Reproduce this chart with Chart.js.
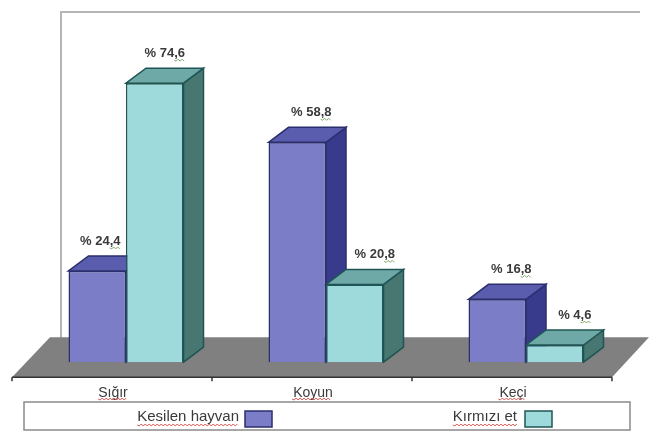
<!DOCTYPE html>
<html>
<head>
<meta charset="utf-8">
<style>
html, body { margin: 0; padding: 0; background: #fff; }
#wrap { width: 649px; height: 433px; }
#mycanvas { filter: blur(0.45px); }
</style>
<script src="https://cdn.jsdelivr.net/npm/chart.js@4"></script>
</head>
<body>
<div id="wrap"><canvas id="mycanvas" width="649" height="433"></canvas></div>
<script>
var categories = ["Sığır", "Koyun", "Keçi"];
var kesilenHayvan = [24.4, 58.8, 16.8];
var kirmiziEt = [74.6, 20.8, 4.6];

var fonts = '"Liberation Sans", Arial, sans-serif';
var depthX = 20, depthY = 15;

var skins = [
	{ front: '#7b7ec6', top: '#5a5cae', side: '#383a8c', edge: '#2b2f6e', shift: [3, 14, 14] },
	{ front: '#9edadb', top: '#6fa9a7', side: '#487670', edge: '#1f5554', shift: [10, 20, 20] }
];

function poly(ctx, pts, fill, stroke) {
	ctx.beginPath();
	ctx.moveTo(pts[0][0], pts[0][1]);
	for (var i = 1; i < pts.length; i++) ctx.lineTo(pts[i][0], pts[i][1]);
	ctx.closePath();
	if (fill) { ctx.fillStyle = fill; ctx.fill(); }
	if (stroke) { ctx.strokeStyle = stroke; ctx.lineWidth = 1.5; ctx.stroke(); }
}

function squiggle(ctx, x1, x2, y, color) {
	ctx.beginPath();
	for (var x = x1, up = true; x <= x2; x += 2, up = !up) {
		if (x === x1) ctx.moveTo(x, y); else ctx.lineTo(x, up ? y - 1 : y + 1);
	}
	ctx.strokeStyle = color;
	ctx.lineWidth = 1;
	ctx.stroke();
}

// floor, frame and 3d faces go under the bars
var backdrop = {
	id: 'backdrop',
	beforeDatasetsDraw: function(chart) {
		var ctx = chart.ctx, a = chart.chartArea;
		ctx.save();

		// back wall frame
		ctx.strokeStyle = '#b5b5b5';
		ctx.lineWidth = 2;
		ctx.beginPath();
		ctx.moveTo(a.left + 35, a.bottom - 20);
		ctx.lineTo(a.left + 35, 12);
		ctx.lineTo(640, 12);
		ctx.stroke();

		// floor
		var fl = a.left - 14, fr = a.right - 14, fb = a.bottom + 15, ft = a.bottom - 25;
		poly(ctx, [[fl, fb], [fr, fb], [fr + 37, ft], [fl + 38, ft]], '#808080');
		ctx.strokeStyle = '#333';
		ctx.lineWidth = 1.5;
		ctx.beginPath();
		ctx.moveTo(fl, fb);
		ctx.lineTo(fr, fb);
		ctx.stroke();
		var step = (fr - fl) / categories.length;
		for (var i = 0; i <= categories.length; i++) {
			ctx.beginPath();
			ctx.moveTo(fl + i * step, fb);
			ctx.lineTo(fl + i * step, fb + 4);
			ctx.stroke();
		}

		// top and side faces, left series first
		chart.data.datasets.forEach(function(ds, d) {
			var s = skins[d];
			chart.getDatasetMeta(d).data.forEach(function(bar) {
				var l = bar.x - bar.width / 2, r = bar.x + bar.width / 2;
				poly(ctx, [[r, bar.y], [r + depthX, bar.y - depthY], [r + depthX, bar.base - depthY], [r, bar.base]], s.side, s.edge);
				poly(ctx, [[l, bar.y], [l + depthX, bar.y - depthY], [r + depthX, bar.y - depthY], [r, bar.y]], s.top, s.edge);
			});
		});
		ctx.restore();
	},
	afterDraw: function(chart) {
		var ctx = chart.ctx;
		ctx.save();

		// value labels
		ctx.font = 'bold 13px ' + fonts;
		ctx.textAlign = 'center';
		ctx.textBaseline = 'middle';
		chart.data.datasets.forEach(function(ds, d) {
			chart.getDatasetMeta(d).data.forEach(function(bar, i) {
				var txt = '% ' + String(ds.data[i]).replace('.', ',');
				var x = bar.x + skins[d].shift[i], y = bar.y - 30;
				ctx.fillStyle = '#3a3a3a';
				ctx.fillText(txt, x, y);
				var w = ctx.measureText(',' + String(ds.data[i]).split('.')[1]).width;
				var right = x + ctx.measureText(txt).width / 2;
				squiggle(ctx, right - w, right, y + 7, '#7fa66a');
			});
		});

		// spell check marks under the category names
		ctx.font = '14px ' + fonts;
		var labelX = [113, 312, 512];
		categories.forEach(function(c, i) {
			var w = ctx.measureText(c).width;
			squiggle(ctx, labelX[i] - w / 2, labelX[i] + w / 2, 399, '#d9534f');
		});

		// legend box
		ctx.fillStyle = '#fff';
		ctx.strokeStyle = '#8a8a8a';
		ctx.lineWidth = 1.5;
		ctx.fillRect(24, 402, 606, 28);
		ctx.strokeRect(24, 402, 606, 28);
		ctx.font = '15px ' + fonts;
		var spots = [[239, 245], [517, 525]];
		ctx.textAlign = 'right';
		chart.data.datasets.forEach(function(ds, d) {
			ctx.fillStyle = '#3a3a3a';
			ctx.fillText(ds.label, spots[d][0], 417);
			var w = ctx.measureText(ds.label).width;
			squiggle(ctx, spots[d][0] - w, spots[d][0], 425, '#d9534f');
			ctx.fillStyle = skins[d].front;
			ctx.strokeStyle = skins[d].edge;
			ctx.lineWidth = 1.5;
			ctx.fillRect(spots[d][1], 411, 27, 16);
			ctx.strokeRect(spots[d][1], 411, 27, 16);
		});
		ctx.restore();
	}
};

var ctx = document.getElementById('mycanvas');

var barGraph = new Chart(ctx, {
	type: 'bar',
	data: {
		labels: categories,
		datasets: [
			{
				label: 'Kesilen hayvan',
				backgroundColor: skins[0].front,
				borderColor: skins[0].edge,
				borderWidth: 1.5,
				data: kesilenHayvan
			},
			{
				label: 'Kırmızı et',
				backgroundColor: skins[1].front,
				borderColor: skins[1].edge,
				borderWidth: 1.5,
				data: kirmiziEt
			}
		]
	},
	options: {
		responsive: false,
		animation: false,
		layout: { padding: { left: 26, right: 23, top: 63, bottom: 16 } },
		plugins: { legend: { display: false }, tooltip: { enabled: false } },
		datasets: { bar: { barPercentage: 1, categoryPercentage: 0.575 } },
		scales: {
			x: {
				grid: { display: false },
				border: { display: false },
				ticks: {
					color: '#3a3a3a',
					font: { size: 14, family: fonts },
					padding: 15,
					labelOffset: -13,
					maxRotation: 0
				}
			},
			y: { display: false, min: 0, max: 80 }
		}
	},
	plugins: [backdrop]
});
</script>
</body>
</html>
